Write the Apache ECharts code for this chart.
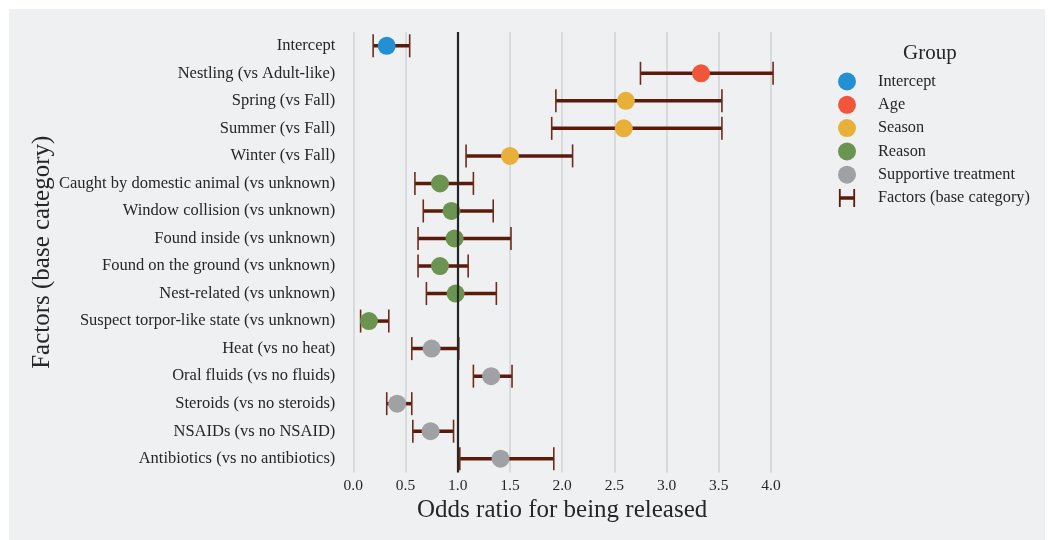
<!DOCTYPE html>
<html>
<head>
<meta charset="utf-8">
<script src="https://cdn.jsdelivr.net/npm/echarts@6/dist/echarts.min.js"></script>
<style>
html,body{margin:0;padding:0;background:#ffffff;}
#chart{width:1048px;height:540px;}
</style>
</head>
<body>
<div id="chart"></div>
<script>
const categories = [
  "Intercept",
  "Nestling (vs Adult-like)",
  "Spring (vs Fall)",
  "Summer (vs Fall)",
  "Winter (vs Fall)",
  "Caught by domestic animal (vs unknown)",
  "Window collision (vs unknown)",
  "Found inside (vs unknown)",
  "Found on the ground (vs unknown)",
  "Nest-related (vs unknown)",
  "Suspect torpor-like state (vs unknown)",
  "Heat (vs no heat)",
  "Oral fluids (vs no fluids)",
  "Steroids (vs no steroids)",
  "NSAIDs (vs no NSAID)",
  "Antibiotics (vs no antibiotics)"
];
const oddsRatio = [0.32, 3.33, 2.61, 2.59, 1.50, 0.83, 0.94, 0.97, 0.83, 0.98, 0.15, 0.75, 1.32, 0.42, 0.74, 1.41];
const lowerCI   = [0.19, 2.75, 1.94, 1.90, 1.08, 0.59, 0.67, 0.62, 0.62, 0.70, 0.07, 0.56, 1.15, 0.32, 0.57, 1.02];
const upperCI   = [0.54, 4.02, 3.53, 3.53, 2.10, 1.15, 1.34, 1.51, 1.10, 1.37, 0.34, 1.01, 1.52, 0.56, 0.96, 1.92];
const groupOf   = ["Intercept","Age","Season","Season","Season","Reason","Reason","Reason","Reason","Reason","Reason",
                   "Supportive treatment","Supportive treatment","Supportive treatment","Supportive treatment","Supportive treatment"];
const groups = ["Intercept","Age","Season","Reason","Supportive treatment"];
const groupColors = ["#2390d6","#f1553a","#e8b038","#6b9450","#a0a1a5"];
const xTicks = [0.0, 0.5, 1.0, 1.5, 2.0, 2.5, 3.0, 3.5, 4.0];
const referenceOR = 1.0;

const FONT = "Liberation Serif";
const barColor = "#5c1a0b";
const errName = "Factors (base category)";

const chart = echarts.init(document.getElementById('chart'), null, {renderer:'canvas'});

const errData = categories.map((c,i)=>[lowerCI[i], upperCI[i], i]);

const series = [];
series.push({
  name: errName,
  type: 'custom',
  z: 3,
  clip: false,
  itemStyle: {color: barColor},
  encode: {x:[0,1], y:2},
  data: errData,
  renderItem: function(params, api){
    const lo = api.coord([api.value(0), api.value(2)]);
    const hi = api.coord([api.value(1), api.value(2)]);
    const capH = 11.5;
    return {
      type:'group',
      children:[
        {type:'line', shape:{x1:lo[0],y1:lo[1],x2:hi[0],y2:hi[1]}, style:{stroke:barColor, lineWidth:3.5}},
        {type:'line', shape:{x1:lo[0],y1:lo[1]-capH,x2:lo[0],y2:lo[1]+capH}, style:{stroke:'#6e2a1a', lineWidth:1.6}},
        {type:'line', shape:{x1:hi[0],y1:hi[1]-capH,x2:hi[0],y2:hi[1]+capH}, style:{stroke:'#6e2a1a', lineWidth:1.6}}
      ]
    };
  }
});
groups.forEach((g,gi)=>{
  const data = [];
  categories.forEach((c,i)=>{ if(groupOf[i]===g) data.push([oddsRatio[i], i]); });
  const s = {
    name: g,
    type: 'scatter',
    symbol: 'circle',
    symbolSize: 18,
    z: 4,
    itemStyle: {color: groupColors[gi], opacity: 1},
    data: data
  };
  if(gi===0){
    s.markLine = {
      silent: true,
      symbol: 'none',
      label: {show:false},
      lineStyle: {color:'#262626', width:2.2, type:'solid'},
      data: [{xAxis: referenceOR}]
    };
  }
  series.push(s);
});

const errIcon = 'path://M0,0h2v20h-2z M16,0h2v20h-2z M0,8h18v4h-18z';

chart.setOption({
  backgroundColor: 'transparent',
  animation: false,
  graphic: [{
    type:'rect', z:-10, silent:true,
    shape:{x:9, y:9, width:1036, height:531},
    style:{fill:'#eff0f2'}
  },{
    type:'text', left: 903, top: 43, silent:true,
    style:{text:'Group', font:'21px "Liberation Serif"', fill:'#262626'}
  }],
  grid: {left: 353.3, right: 1048-771, top: 32, bottom: 540-472.5, containLabel:false},
  xAxis: {
    type: 'value',
    min: 0, max: 4.0, interval: 0.5,
    name: 'Odds ratio for being released',
    nameLocation: 'middle',
    nameGap: 25,
    nameTextStyle: {fontFamily: FONT, fontSize: 25, color:'#262626'},
    axisLine: {show:false},
    axisTick: {show:false},
    axisLabel: {fontFamily: FONT, fontSize: 15.5, color:'#262626', margin: 5,
      formatter: v => { const t = xTicks.find(x=>Math.abs(x-v)<1e-6); return t===undefined ? '' : t.toFixed(1); }},
    splitLine: {show:true, lineStyle:{color:'#d2d3d7', width:1.5}}
  },
  yAxis: {
    type: 'category',
    data: categories,
    inverse: true,
    name: 'Factors (base category)',
    nameLocation: 'middle',
    nameGap: 298,
    nameRotate: 90,
    nameTextStyle: {fontFamily: FONT, fontSize: 25, color:'#262626'},
    axisLine: {show:false},
    axisTick: {show:false},
    splitLine: {show:false},
    axisLabel: {fontFamily: FONT, fontSize: 16.5, color:'#262626', margin: 18, interval: 0}
  },
  legend: {
    orient: 'vertical',
    left: 833, top: 67.5,
    itemWidth: 18, itemHeight: 18,
    itemGap: 5.3,
    data: groups.map(g=>({name:g, icon:'circle'})).concat([{name: errName, icon: errIcon, itemStyle:{color:barColor}}]),
    textStyle: {fontFamily: FONT, fontSize: 16.3, color:'#262626', padding:[0,0,0,17]},
    selectedMode: false
  },
  series: series
});
</script>
</body>
</html>
